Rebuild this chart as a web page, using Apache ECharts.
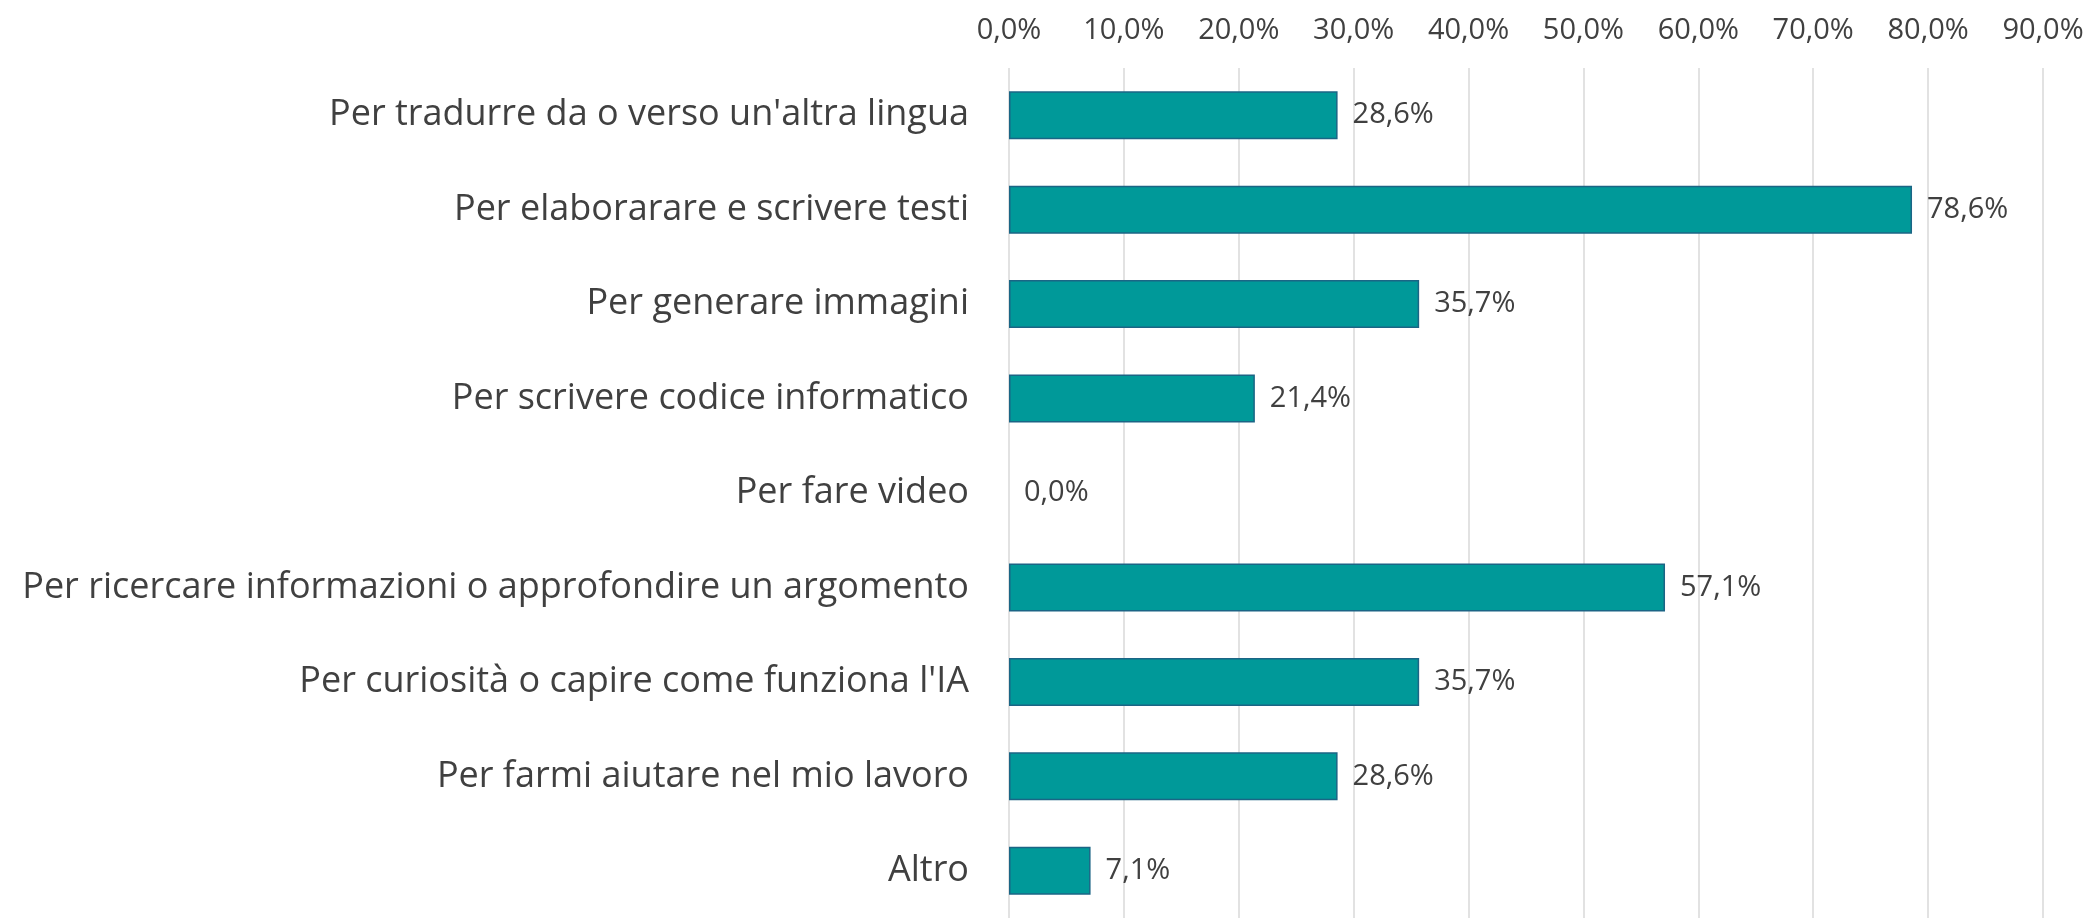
<!DOCTYPE html>
<html>
<head>
<meta charset="utf-8">
<script src="https://cdn.jsdelivr.net/npm/echarts@6/dist/echarts.min.js"></script>
<style>
html,body{margin:0;padding:0;background:#fff;}
#chart{width:2089px;height:918px;}
</style>
</head>
<body>
<div id="chart"></div>
<script>
const categories = [
  "Per tradurre da o verso un'altra lingua",
  "Per elaborarare e scrivere testi",
  "Per generare immagini",
  "Per scrivere codice informatico",
  "Per fare video",
  "Per ricercare informazioni o approfondire un argomento",
  "Per curiosità o capire come funziona l'IA",
  "Per farmi aiutare nel mio lavoro",
  "Altro"
];
const values = [28.6, 78.6, 35.7, 21.4, 0.0, 57.1, 35.7, 28.6, 7.1];
const axisMin = 0, axisMax = 90, axisStep = 10;

const fmt = v => v.toFixed(1).replace('.', ',') + '%';
const chart = echarts.init(document.getElementById('chart'));
const font = "'Open Sans', 'Noto Sans', sans-serif";
chart.setOption({
  animation: false,
  backgroundColor: '#ffffff',
  grid: { left: 1009, right: 46, top: 68, bottom: -5, containLabel: false },
  xAxis: {
    type: 'value', position: 'top', min: axisMin, max: axisMax, interval: axisStep,
    axisLine: { show: false }, axisTick: { show: false },
    splitLine: { show: true, lineStyle: { color: '#d9d9d9', width: 1.5 } },
    axisLabel: { formatter: v => fmt(v), color: '#404040', fontSize: 29, fontFamily: font, margin: 23 }
  },
  yAxis: {
    type: 'category', data: categories, inverse: true,
    axisLine: { show: false }, axisTick: { show: false },
    axisLabel: { color: '#404040', fontSize: 36, fontFamily: font, margin: 40, padding: [4, 0, 0, 0] }
  },
  series: [{
    type: 'bar',
    data: values.map(v => ({ value: v, itemStyle: v === 0 ? { borderWidth: 0 } : {} })),
    barWidth: 48,
    itemStyle: { color: '#009999', borderColor: '#1b6585', borderWidth: 1.5 },
    label: { show: true, position: 'right', distance: 15, formatter: p => fmt(p.value),
      color: '#404040', fontSize: 29, fontFamily: font, padding: [6, 0, 0, 0] }
  }]
});
</script>
</body>
</html>
